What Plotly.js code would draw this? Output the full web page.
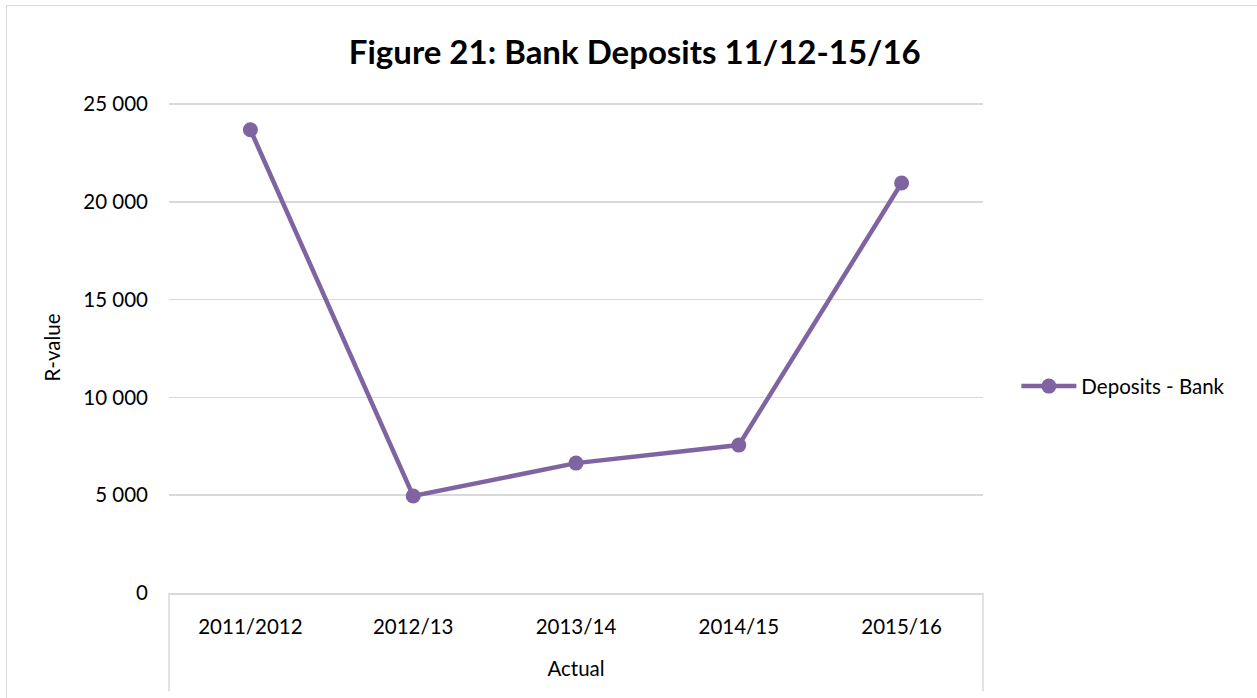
<!DOCTYPE html>
<html>
<head>
<meta charset="utf-8">
<script src="https://cdn.plot.ly/plotly-3.0.1.min.js"></script>
<style>
html,body{margin:0;padding:0;background:#fff;}
#wrap{position:relative;width:1257px;height:698px;overflow:hidden;}
#frame{position:absolute;left:6px;top:5px;width:1260px;height:720px;border:1px solid #d9d9d9;box-sizing:border-box;pointer-events:none;z-index:5;}
#chart{position:absolute;left:0;top:0;width:1257px;height:698px;}
</style>
</head>
<body>
<div id="wrap"><div id="chart"></div><div id="frame"></div></div>
<script>
const categories = ["2011/2012", "2012/13", "2013/14", "2014/15", "2015/16"];
const depositsBank = [23680, 4960, 6640, 7560, 20960];
const seriesName = "Deposits - Bank";
const groupLabel = "Actual";
const yTicks = [0, 5000, 10000, 15000, 20000, 25000];

const font = "Lato, 'Open Sans', 'Noto Sans', sans-serif";

Plotly.newPlot("chart", [{
  x: categories,
  y: depositsBank,
  type: "scatter",
  mode: "lines+markers",
  name: seriesName,
  line: {color: "#8064A2", width: 4.5},
  marker: {color: "#8064A2", size: 15}
}], {
  width: 1257, height: 698,
  margin: {l: 169, r: 274, t: 102, b: 105},
  paper_bgcolor: "#fff", plot_bgcolor: "#fff",
  separators: ". ",
  font: {family: font, size: 20.5, color: "#000"},
  title: {text: "<b>Figure 21: Bank Deposits 11/12-15/16</b>", font: {family: font, size: 33, color: "#000"}, x: 0.505, xanchor: "center", y: 0.925, yanchor: "middle"},
  xaxis: {
    type: "category",
    showgrid: false, zeroline: false,
    showline: true, linecolor: "#d9d9d9", linewidth: 1.5,
    ticks: "", tickfont: {family: font, size: 20.5},
    ticklabelstandoff: 15,
    title: {text: groupLabel, font: {family: font, size: 20.5}, standoff: 24},
    range: [-0.5, 4.5], fixedrange: true
  },
  yaxis: {
    range: [0, 25100], tickvals: yTicks, tickformat: ",",
    showgrid: true, gridcolor: "#d9d9d9", gridwidth: 1.5,
    zeroline: false, showline: false, ticks: "",
    tickfont: {family: font, size: 20.5},
    ticklabelstandoff: 20,
    title: {text: "R-value", font: {family: font, size: 20.5}, standoff: 17},
    fixedrange: true
  },
  showlegend: true,
  legend: {x: 1.041, xanchor: "left", y: 0.421, yanchor: "middle", itemwidth: 55, font: {family: font, size: 20.5}, bgcolor: "rgba(0,0,0,0)"},
  shapes: [
    {type: "line", xref: "paper", yref: "paper", x0: 0, x1: 0, y0: 0, y1: -0.2, line: {color: "#d9d9d9", width: 1.5}},
    {type: "line", xref: "paper", yref: "paper", x0: 1, x1: 1, y0: 0, y1: -0.2, line: {color: "#d9d9d9", width: 1.5}}
  ]
}, {displayModeBar: false, staticPlot: true});
</script>
</body>
</html>
